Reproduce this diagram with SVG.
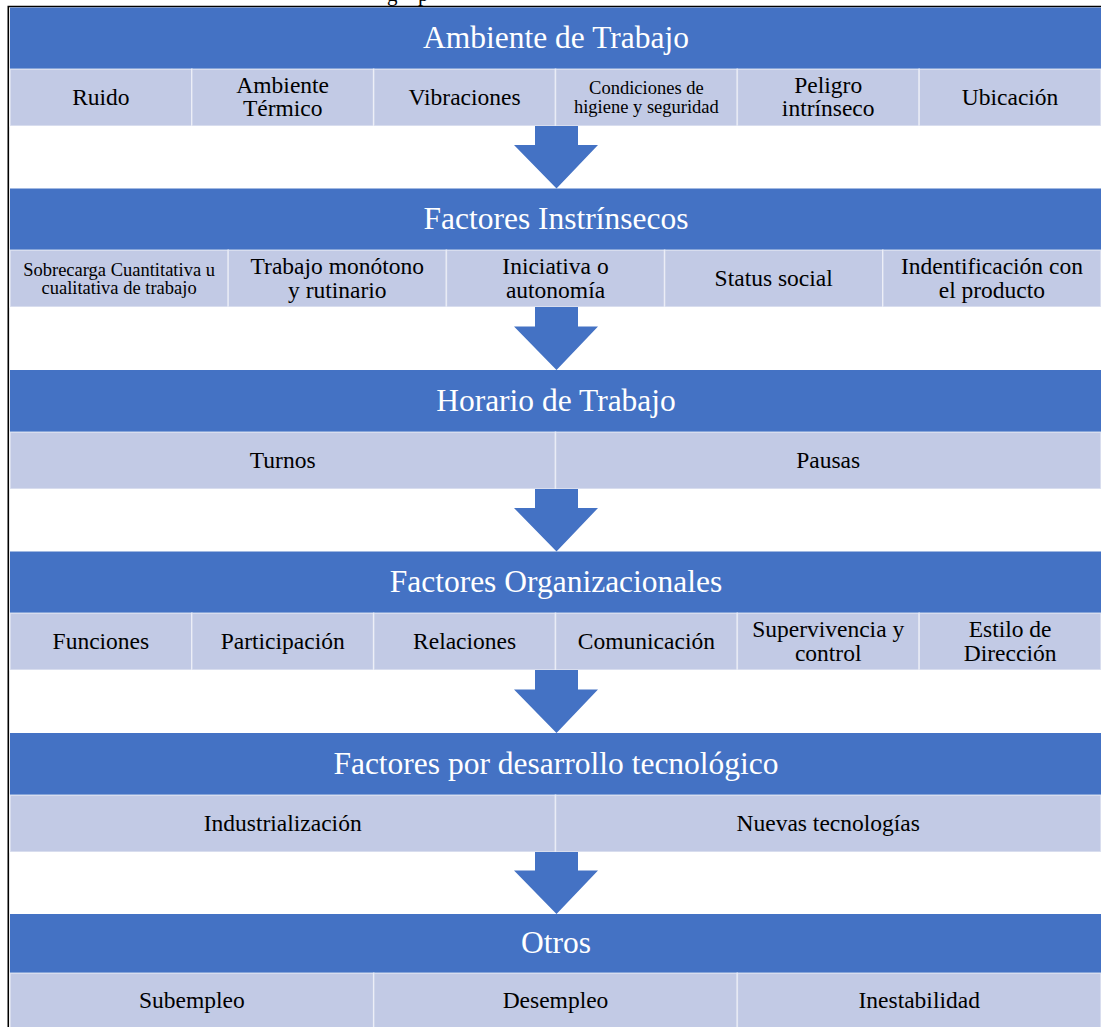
<svg xmlns="http://www.w3.org/2000/svg" width="1101" height="1027" viewBox="0 0 1101 1027">
  <style>
    .hdr { fill: #4472C4; }
    .cell { fill: #C2CAE5; stroke: #FFFFFF; stroke-opacity: 0.45; stroke-width: 1.6; }
    .htxt { font-family: "Liberation Serif", "Times New Roman", serif; font-size: 31.5px; fill: #FFFFFF; text-anchor: middle; }
    .ctxt { font-family: "Liberation Serif", "Times New Roman", serif; font-size: 23.5px; fill: #000000; text-anchor: middle; }
    .stxt { font-family: "Liberation Serif", "Times New Roman", serif; font-size: 18.5px; fill: #000000; text-anchor: middle; }
    .frag { font-family: "Liberation Serif", "Times New Roman", serif; font-size: 21px; fill: #000000; }
    .arrow { fill: #4472C4; }
    .frame { stroke: #000000; stroke-width: 1.6; fill: none; }
  </style>

  <rect width="1101" height="1027" fill="#FFFFFF"/>

  <!-- descenders of the caption line cut off above -->
  <text class="frag" x="387" y="0.5">g</text>
  <text class="frag" x="418" y="0.5">p</text>

  <!-- page frame: top and left rules -->
  <path class="frame" d="M8.3 1027 V6.5 H1101"/>

  <!-- section 1 -->
  <g id="ambiente-de-trabajo">
    <rect class="hdr" x="10" y="7.5" width="1091" height="61.5"/>
    <text class="htxt" x="556" y="47.5">Ambiente de Trabajo</text>
  </g>
  <g id="ruido"><rect class="cell" x="10" y="69" width="181.8" height="57"/><text class="ctxt" x="100.9" y="105">Ruido</text></g>
  <g id="ambiente-termico"><rect class="cell" x="191.8" y="69" width="181.8" height="57"/><text class="ctxt" x="282.7" y="92.5">Ambiente</text><text class="ctxt" x="282.7" y="116">Térmico</text></g>
  <g id="vibraciones"><rect class="cell" x="373.7" y="69" width="181.8" height="57"/><text class="ctxt" x="464.6" y="105">Vibraciones</text></g>
  <g id="condiciones"><rect class="cell" x="555.5" y="69" width="181.8" height="57"/><text class="stxt" x="646.4" y="93.5">Condiciones de</text><text class="stxt" x="646.4" y="113">higiene y seguridad</text></g>
  <g id="peligro"><rect class="cell" x="737.3" y="69" width="181.8" height="57"/><text class="ctxt" x="828.2" y="92.5">Peligro</text><text class="ctxt" x="828.2" y="116">intrínseco</text></g>
  <g id="ubicacion"><rect class="cell" x="919.2" y="69" width="181.8" height="57"/><text class="ctxt" x="1010.1" y="105">Ubicación</text></g>

  <!-- section 2 -->
  <g id="factores-intrinsecos">
    <rect class="hdr" x="10" y="188.5" width="1091" height="61.5"/>
    <text class="htxt" x="556" y="228.5">Factores Instrínsecos</text>
  </g>
  <g id="sobrecarga"><rect class="cell" x="10" y="250" width="218.2" height="57"/><text class="stxt" x="119.1" y="275.5">Sobrecarga Cuantitativa u</text><text class="stxt" x="119.1" y="293.5">cualitativa de trabajo</text></g>
  <g id="trabajo-monotono"><rect class="cell" x="228.2" y="250" width="218.2" height="57"/><text class="ctxt" x="337.3" y="274">Trabajo monótono</text><text class="ctxt" x="337.3" y="298">y rutinario</text></g>
  <g id="iniciativa"><rect class="cell" x="446.4" y="250" width="218.2" height="57"/><text class="ctxt" x="555.5" y="274">Iniciativa o</text><text class="ctxt" x="555.5" y="298">autonomía</text></g>
  <g id="status-social"><rect class="cell" x="664.6" y="250" width="218.2" height="57"/><text class="ctxt" x="773.7" y="286">Status social</text></g>
  <g id="identificacion"><rect class="cell" x="882.8" y="250" width="218.2" height="57"/><text class="ctxt" x="991.9" y="274">Indentificación con</text><text class="ctxt" x="991.9" y="298">el producto</text></g>

  <!-- section 3 -->
  <g id="horario-de-trabajo">
    <rect class="hdr" x="10" y="370" width="1091" height="62"/>
    <text class="htxt" x="556" y="410.5">Horario de Trabajo</text>
  </g>
  <g id="turnos"><rect class="cell" x="10" y="432" width="545.5" height="57"/><text class="ctxt" x="282.7" y="468">Turnos</text></g>
  <g id="pausas"><rect class="cell" x="555.5" y="432" width="545.5" height="57"/><text class="ctxt" x="828.2" y="468">Pausas</text></g>

  <!-- section 4 -->
  <g id="factores-organizacionales">
    <rect class="hdr" x="10" y="551.5" width="1091" height="61.5"/>
    <text class="htxt" x="556" y="591.5">Factores Organizacionales</text>
  </g>
  <g id="funciones"><rect class="cell" x="10" y="613" width="181.8" height="57"/><text class="ctxt" x="100.9" y="649">Funciones</text></g>
  <g id="participacion"><rect class="cell" x="191.8" y="613" width="181.8" height="57"/><text class="ctxt" x="282.7" y="649">Participación</text></g>
  <g id="relaciones"><rect class="cell" x="373.7" y="613" width="181.8" height="57"/><text class="ctxt" x="464.6" y="649">Relaciones</text></g>
  <g id="comunicacion"><rect class="cell" x="555.5" y="613" width="181.8" height="57"/><text class="ctxt" x="646.4" y="649">Comunicación</text></g>
  <g id="supervivencia"><rect class="cell" x="737.3" y="613" width="181.8" height="57"/><text class="ctxt" x="828.2" y="637">Supervivencia y</text><text class="ctxt" x="828.2" y="661">control</text></g>
  <g id="estilo-direccion"><rect class="cell" x="919.2" y="613" width="181.8" height="57"/><text class="ctxt" x="1010.1" y="637">Estilo de</text><text class="ctxt" x="1010.1" y="661">Dirección</text></g>

  <!-- section 5 -->
  <g id="desarrollo-tecnologico">
    <rect class="hdr" x="10" y="733" width="1091" height="62"/>
    <text class="htxt" x="556" y="773.5">Factores por desarrollo tecnológico</text>
  </g>
  <g id="industrializacion"><rect class="cell" x="10" y="795" width="545.5" height="57"/><text class="ctxt" x="282.7" y="831">Industrialización</text></g>
  <g id="nuevas-tecnologias"><rect class="cell" x="555.5" y="795" width="545.5" height="57"/><text class="ctxt" x="828.2" y="831">Nuevas tecnologías</text></g>

  <!-- section 6 -->
  <g id="otros">
    <rect class="hdr" x="10" y="914" width="1091" height="59"/>
    <text class="htxt" x="556" y="953">Otros</text>
  </g>
  <g id="subempleo"><rect class="cell" x="10" y="973" width="363.7" height="56"/><text class="ctxt" x="191.8" y="1008">Subempleo</text></g>
  <g id="desempleo"><rect class="cell" x="373.7" y="973" width="363.6" height="56"/><text class="ctxt" x="555.5" y="1008">Desempleo</text></g>
  <g id="inestabilidad"><rect class="cell" x="737.3" y="973" width="363.7" height="56"/><text class="ctxt" x="919.2" y="1008">Inestabilidad</text></g>

  <!-- block arrows between sections -->
  <g id="connectors">
    <path class="arrow" d="M535 126 H578 V145 H598 L556.5 188.5 L514 145 H535 Z"/>
    <path class="arrow" d="M535 307 H578 V326.5 H598 L556.5 370 L514 326.5 H535 Z"/>
    <path class="arrow" d="M535 489 H578 V508 H598 L556.5 551.5 L514 508 H535 Z"/>
    <path class="arrow" d="M535 670 H578 V689.5 H598 L556.5 733 L514 689.5 H535 Z"/>
    <path class="arrow" d="M535 852 H578 V870.5 H598 L556.5 914 L514 870.5 H535 Z"/>
  </g>
</svg>
